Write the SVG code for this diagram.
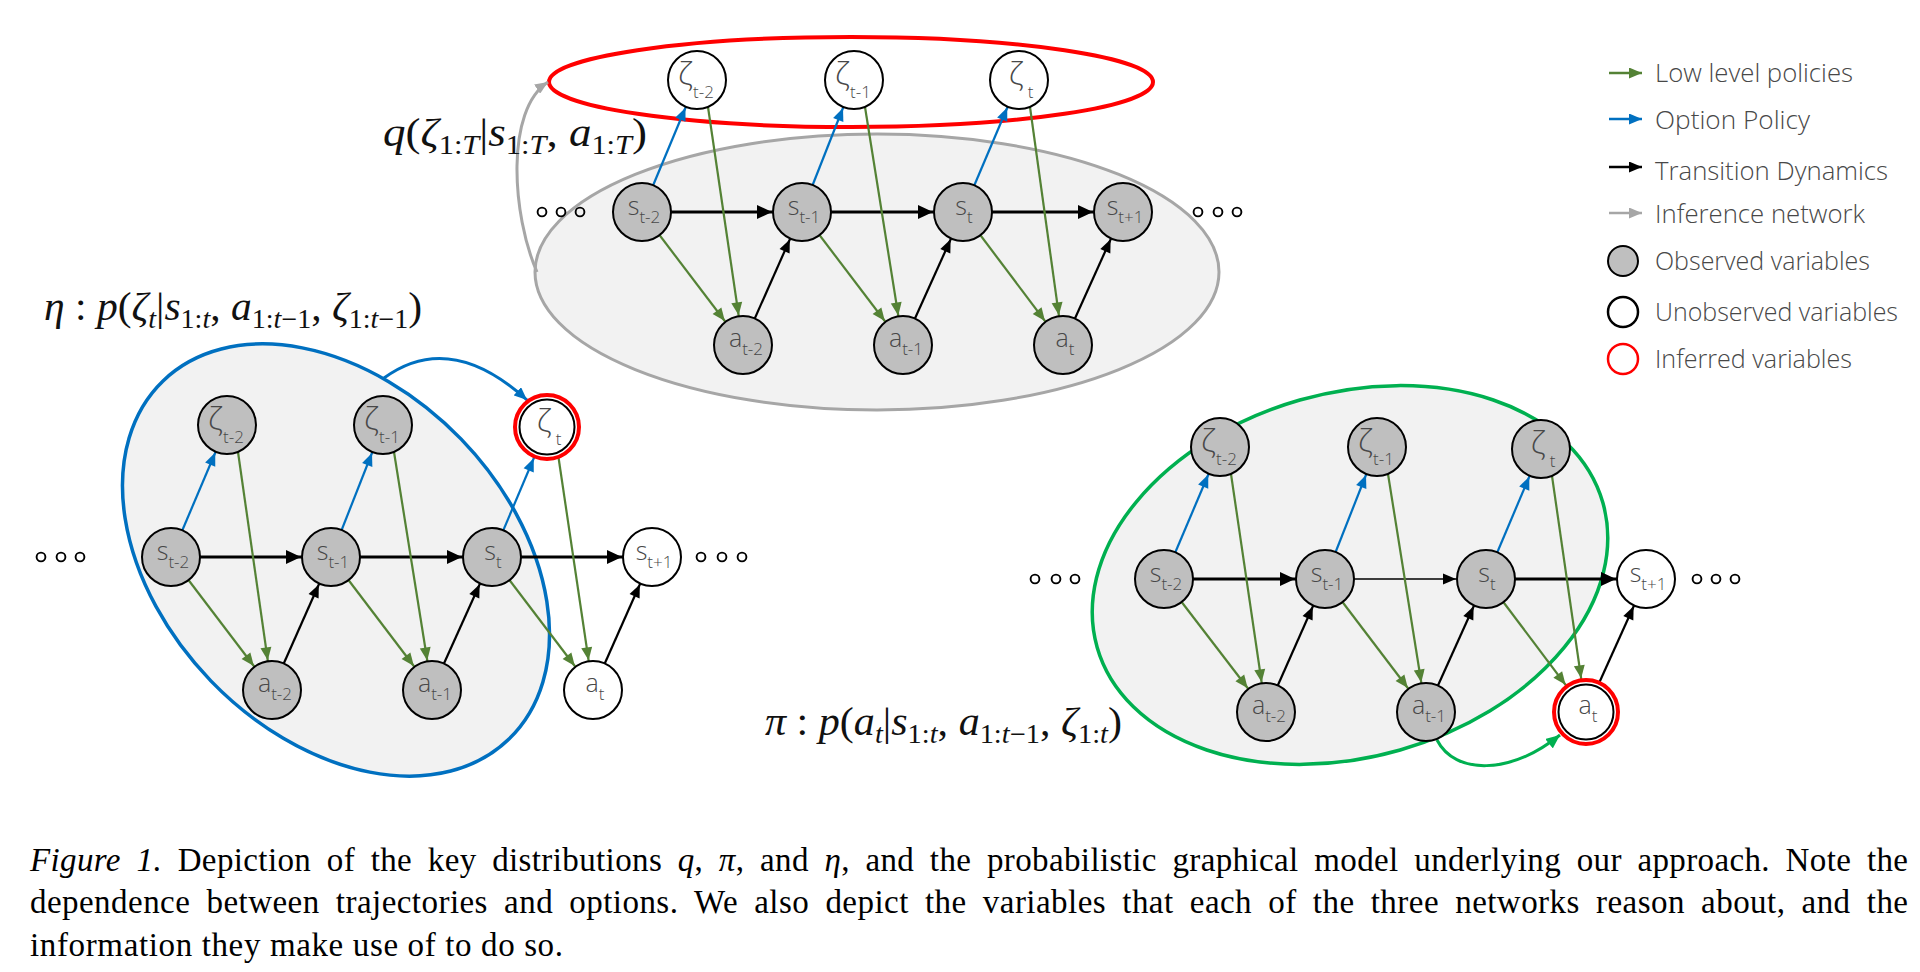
<svg xmlns="http://www.w3.org/2000/svg" width="1920" height="972" viewBox="0 0 1920 972">
<style>
.plate{fill:#f2f2f2}
.n{stroke:#000;stroke-width:2}
.obs{fill:#bfbfbf}
.un{fill:#fff}
.ring{fill:#fff;stroke:#ff0000;stroke-width:4}
.lbl{font-family:"Open Sans","Lato","DejaVu Sans",sans-serif;font-weight:300;font-size:25px;fill:#484848;text-anchor:middle}
.zl{font-size:32px}
.sb{font-size:17px}
.e{fill:none;stroke-width:2.2}
.k{stroke:#000;marker-end:url(#mk30)}
.h{stroke:#000;stroke-width:3;marker-end:url(#mkh30)}
.g{stroke:#548235;marker-end:url(#mg30)}
.g4{stroke:#548235;marker-end:url(#mg34)}
.b{stroke:#0070c0;marker-end:url(#mb30)}
.b4{stroke:#0070c0;marker-end:url(#mb34)}
.dots circle{fill:none;stroke:#000;stroke-width:1.9}
.leg{font-family:"Open Sans","Lato","DejaVu Sans",sans-serif;font-weight:300;font-size:25px;fill:#484848}
.mt{font-family:"Liberation Serif","Times New Roman",serif;font-size:40px;fill:#111}
.it{font-style:italic}
.sub{font-size:27px}
.cap{font-family:"Liberation Serif","Times New Roman",serif;font-size:33px;fill:#000}
</style>
<defs>
  <!-- arrowheads drawn 30/34 px before the line end so lines can run centre to centre -->
  <marker id="mk30" markerUnits="userSpaceOnUse" markerWidth="13" markerHeight="11" refX="43" refY="5.5" orient="auto" overflow="visible"><path d="M0,0L13,5.5L0,11z" fill="#000"/></marker>
  <marker id="mkh30" markerUnits="userSpaceOnUse" markerWidth="15" markerHeight="14" refX="45" refY="7" orient="auto" overflow="visible"><path d="M0,0L15,7L0,14z" fill="#000"/></marker>
  <marker id="mg30" markerUnits="userSpaceOnUse" markerWidth="13" markerHeight="11" refX="43" refY="5.5" orient="auto" overflow="visible"><path d="M0,0L13,5.5L0,11z" fill="#548235"/></marker>
  <marker id="mg34" markerUnits="userSpaceOnUse" markerWidth="13" markerHeight="11" refX="47" refY="5.5" orient="auto" overflow="visible"><path d="M0,0L13,5.5L0,11z" fill="#548235"/></marker>
  <marker id="mb30" markerUnits="userSpaceOnUse" markerWidth="13" markerHeight="11" refX="43" refY="5.5" orient="auto" overflow="visible"><path d="M0,0L13,5.5L0,11z" fill="#0070c0"/></marker>
  <marker id="mb34" markerUnits="userSpaceOnUse" markerWidth="13" markerHeight="11" refX="47" refY="5.5" orient="auto" overflow="visible"><path d="M0,0L13,5.5L0,11z" fill="#0070c0"/></marker>
  <!-- arrowheads with the tip on the line end -->
  <marker id="mk0" markerUnits="userSpaceOnUse" markerWidth="13" markerHeight="11" refX="13" refY="5.5" orient="auto"><path d="M0,0L13,5.5L0,11z" fill="#000"/></marker>
  <marker id="mg0" markerUnits="userSpaceOnUse" markerWidth="13" markerHeight="11" refX="13" refY="5.5" orient="auto"><path d="M0,0L13,5.5L0,11z" fill="#548235"/></marker>
  <marker id="mb0" markerUnits="userSpaceOnUse" markerWidth="13" markerHeight="11" refX="13" refY="5.5" orient="auto"><path d="M0,0L13,5.5L0,11z" fill="#0070c0"/></marker>
  <marker id="ma0" markerUnits="userSpaceOnUse" markerWidth="13" markerHeight="11" refX="13" refY="5.5" orient="auto"><path d="M0,0L13,5.5L0,11z" fill="#a6a6a6"/></marker>
  <marker id="me0" markerUnits="userSpaceOnUse" markerWidth="14" markerHeight="12" refX="14" refY="6" orient="auto"><path d="M0,0L14,6L0,12z" fill="#00b050"/></marker>
</defs>

<rect width="1920" height="972" fill="#fff"/>

<!-- plates: inference (top), option policy eta (left), action policy pi (right) -->
<g id="plates">
  <ellipse class="plate" cx="877" cy="272" rx="342" ry="138" stroke="#a6a6a6" stroke-width="3"/>
  <ellipse cx="851" cy="82" rx="302" ry="45" fill="none" stroke="#ff0000" stroke-width="4"/>
  <ellipse class="plate" cx="0" cy="0" rx="249" ry="174" transform="translate(336 560) rotate(46)" stroke="#0070c0" stroke-width="3.5"/>
  <ellipse class="plate" cx="0" cy="0" rx="263" ry="182" transform="translate(1350 575) rotate(-16)" stroke="#00b050" stroke-width="3.5"/>
</g>

<g id="connectors">
  <!-- top model -->
  <line class="e h" x1="642" y1="212" x2="802" y2="212"/>
  <line class="e h" x1="802" y1="212" x2="963" y2="212"/>
  <line class="e h" x1="963" y1="212" x2="1123" y2="212"/>
  <line class="e k" x1="743" y1="345" x2="802" y2="212"/>
  <line class="e k" x1="903" y1="345" x2="963" y2="212"/>
  <line class="e k" x1="1063" y1="345" x2="1123" y2="212"/>
  <line class="e b" x1="642" y1="212" x2="697" y2="80"/>
  <line class="e b" x1="802" y1="212" x2="854" y2="80"/>
  <line class="e b" x1="963" y1="212" x2="1019" y2="80"/>
  <line class="e g" x1="642" y1="212" x2="743" y2="345"/>
  <line class="e g" x1="802" y1="212" x2="903" y2="345"/>
  <line class="e g" x1="963" y1="212" x2="1063" y2="345"/>
  <line class="e g" x1="708" y1="107" x2="743" y2="345"/>
  <line class="e g" x1="865" y1="107" x2="903" y2="345"/>
  <line class="e g" x1="1030" y1="107" x2="1063" y2="345"/>
  <path d="M537,272 C512,215 505,110 548,82" fill="none" stroke="#a6a6a6" stroke-width="3" marker-end="url(#ma0)"/>

  <!-- left model -->
  <line class="e h" x1="171" y1="557" x2="331" y2="557"/>
  <line class="e h" x1="331" y1="557" x2="492" y2="557"/>
  <line class="e h" x1="492" y1="557" x2="652" y2="557"/>
  <line class="e k" x1="272" y1="690" x2="331" y2="557"/>
  <line class="e k" x1="432" y1="690" x2="492" y2="557"/>
  <line class="e k" x1="593" y1="690" x2="652" y2="557"/>
  <line class="e b" x1="171" y1="557" x2="227" y2="425"/>
  <line class="e b" x1="331" y1="557" x2="383" y2="425"/>
  <line class="e b4" x1="492" y1="557" x2="547" y2="427"/>
  <line class="e g" x1="171" y1="557" x2="272" y2="690"/>
  <line class="e g" x1="331" y1="557" x2="432" y2="690"/>
  <line class="e g" x1="492" y1="557" x2="593" y2="690"/>
  <line class="e g" x1="238" y1="452" x2="272" y2="690"/>
  <line class="e g" x1="394" y1="452" x2="432" y2="690"/>
  <line class="e g" x1="558" y1="454" x2="593" y2="690"/>
  <path d="M384,378 Q450,330 527,400" fill="none" stroke="#0070c0" stroke-width="3" marker-end="url(#mb0)"/>

  <!-- right model -->
  <line class="e h" x1="1164" y1="579" x2="1325" y2="579"/>
  <line class="e k" x1="1325" y1="579" x2="1486" y2="579" style="stroke-width:1.5"/>
  <line class="e h" x1="1486" y1="579" x2="1646" y2="579"/>
  <line class="e k" x1="1266" y1="712" x2="1325" y2="579"/>
  <line class="e k" x1="1426" y1="712" x2="1486" y2="579"/>
  <line class="e k" x1="1586" y1="712" x2="1646" y2="579"/>
  <line class="e b" x1="1164" y1="579" x2="1220" y2="447"/>
  <line class="e b" x1="1325" y1="579" x2="1377" y2="447"/>
  <line class="e b" x1="1486" y1="579" x2="1541" y2="449"/>
  <line class="e g" x1="1164" y1="579" x2="1266" y2="712"/>
  <line class="e g" x1="1325" y1="579" x2="1426" y2="712"/>
  <line class="e g4" x1="1486" y1="579" x2="1586" y2="712"/>
  <line class="e g" x1="1231" y1="474" x2="1266" y2="712"/>
  <line class="e g" x1="1388" y1="474" x2="1426" y2="712"/>
  <line class="e g4" x1="1552" y1="476" x2="1586" y2="712"/>
  <path d="M1437,740 C1455,775 1510,775 1560,735" fill="none" stroke="#00b050" stroke-width="3" marker-end="url(#me0)"/>
</g>

<!-- continuation marks -->
<g class="dots">
  <circle cx="542" cy="212" r="4.4"/><circle cx="561" cy="212" r="4.4"/><circle cx="580" cy="212" r="4.4"/>
  <circle cx="1198" cy="212" r="4.4"/><circle cx="1218" cy="212" r="4.4"/><circle cx="1237" cy="212" r="4.4"/>
  <circle cx="41" cy="557" r="4.4"/><circle cx="61" cy="557" r="4.4"/><circle cx="80" cy="557" r="4.4"/>
  <circle cx="701" cy="557" r="4.4"/><circle cx="722" cy="557" r="4.4"/><circle cx="742" cy="557" r="4.4"/>
  <circle cx="1035" cy="579" r="4.4"/><circle cx="1056" cy="579" r="4.4"/><circle cx="1075" cy="579" r="4.4"/>
  <circle cx="1697" cy="579" r="4.4"/><circle cx="1716" cy="579" r="4.4"/><circle cx="1735" cy="579" r="4.4"/>
</g>

<!-- top model nodes -->
<g id="top-z-t2"><circle class="n un" cx="697" cy="80" r="29"/><text class="lbl zl" x="696" y="85">ζ<tspan class="sb" dy="13">t-2</tspan></text></g>
<g id="top-z-t1"><circle class="n un" cx="854" cy="80" r="29"/><text class="lbl zl" x="853" y="85">ζ<tspan class="sb" dy="13">t-1</tspan></text></g>
<g id="top-z-t"><circle class="n un" cx="1019" cy="80" r="29"/><text class="lbl zl" x="1021" y="85">ζ<tspan class="sb" dx="4" dy="13">t</tspan></text></g>
<g id="top-s-t2"><circle class="n obs" cx="642" cy="212" r="29"/><text class="lbl" x="644" y="215">s<tspan class="sb" dy="8">t-2</tspan></text></g>
<g id="top-s-t1"><circle class="n obs" cx="802" cy="212" r="29"/><text class="lbl" x="804" y="215">s<tspan class="sb" dy="8">t-1</tspan></text></g>
<g id="top-s-t"><circle class="n obs" cx="963" cy="212" r="29"/><text class="lbl" x="964" y="215">s<tspan class="sb" dy="8">t</tspan></text></g>
<g id="top-s-tp1"><circle class="n obs" cx="1123" cy="212" r="29"/><text class="lbl" x="1125" y="215">s<tspan class="sb" dy="8">t+1</tspan></text></g>
<g id="top-a-t2"><circle class="n obs" cx="743" cy="345" r="29"/><text class="lbl" x="746" y="347">a<tspan class="sb" dy="8">t-2</tspan></text></g>
<g id="top-a-t1"><circle class="n obs" cx="903" cy="345" r="29"/><text class="lbl" x="906" y="347">a<tspan class="sb" dy="8">t-1</tspan></text></g>
<g id="top-a-t"><circle class="n obs" cx="1063" cy="345" r="29"/><text class="lbl" x="1065" y="347">a<tspan class="sb" dy="8">t</tspan></text></g>

<!-- left model nodes -->
<g id="eta-z-t2"><circle class="n obs" cx="227" cy="425" r="29"/><text class="lbl zl" x="226" y="430">ζ<tspan class="sb" dy="13">t-2</tspan></text></g>
<g id="eta-z-t1"><circle class="n obs" cx="383" cy="425" r="29"/><text class="lbl zl" x="382" y="430">ζ<tspan class="sb" dy="13">t-1</tspan></text></g>
<g id="eta-z-t"><circle class="ring" cx="547" cy="427" r="32"/><circle class="n un" cx="547" cy="427" r="27.5"/><text class="lbl zl" x="549" y="432">ζ<tspan class="sb" dx="4" dy="13">t</tspan></text></g>
<g id="eta-s-t2"><circle class="n obs" cx="171" cy="557" r="29"/><text class="lbl" x="173" y="560">s<tspan class="sb" dy="8">t-2</tspan></text></g>
<g id="eta-s-t1"><circle class="n obs" cx="331" cy="557" r="29"/><text class="lbl" x="333" y="560">s<tspan class="sb" dy="8">t-1</tspan></text></g>
<g id="eta-s-t"><circle class="n obs" cx="492" cy="557" r="29"/><text class="lbl" x="493" y="560">s<tspan class="sb" dy="8">t</tspan></text></g>
<g id="eta-s-tp1"><circle class="n un" cx="652" cy="557" r="29"/><text class="lbl" x="654" y="560">s<tspan class="sb" dy="8">t+1</tspan></text></g>
<g id="eta-a-t2"><circle class="n obs" cx="272" cy="690" r="29"/><text class="lbl" x="275" y="692">a<tspan class="sb" dy="8">t-2</tspan></text></g>
<g id="eta-a-t1"><circle class="n obs" cx="432" cy="690" r="29"/><text class="lbl" x="435" y="692">a<tspan class="sb" dy="8">t-1</tspan></text></g>
<g id="eta-a-t"><circle class="n un" cx="593" cy="690" r="29"/><text class="lbl" x="595" y="692">a<tspan class="sb" dy="8">t</tspan></text></g>

<!-- right model nodes -->
<g id="pi-z-t2"><circle class="n obs" cx="1220" cy="447" r="29"/><text class="lbl zl" x="1219" y="452">ζ<tspan class="sb" dy="13">t-2</tspan></text></g>
<g id="pi-z-t1"><circle class="n obs" cx="1377" cy="447" r="29"/><text class="lbl zl" x="1376" y="452">ζ<tspan class="sb" dy="13">t-1</tspan></text></g>
<g id="pi-z-t"><circle class="n obs" cx="1541" cy="449" r="29"/><text class="lbl zl" x="1543" y="454">ζ<tspan class="sb" dx="4" dy="13">t</tspan></text></g>
<g id="pi-s-t2"><circle class="n obs" cx="1164" cy="579" r="29"/><text class="lbl" x="1166" y="582">s<tspan class="sb" dy="8">t-2</tspan></text></g>
<g id="pi-s-t1"><circle class="n obs" cx="1325" cy="579" r="29"/><text class="lbl" x="1327" y="582">s<tspan class="sb" dy="8">t-1</tspan></text></g>
<g id="pi-s-t"><circle class="n obs" cx="1486" cy="579" r="29"/><text class="lbl" x="1487" y="582">s<tspan class="sb" dy="8">t</tspan></text></g>
<g id="pi-s-tp1"><circle class="n un" cx="1646" cy="579" r="29"/><text class="lbl" x="1648" y="582">s<tspan class="sb" dy="8">t+1</tspan></text></g>
<g id="pi-a-t2"><circle class="n obs" cx="1266" cy="712" r="29"/><text class="lbl" x="1269" y="714">a<tspan class="sb" dy="8">t-2</tspan></text></g>
<g id="pi-a-t1"><circle class="n obs" cx="1426" cy="712" r="29"/><text class="lbl" x="1429" y="714">a<tspan class="sb" dy="8">t-1</tspan></text></g>
<g id="pi-a-t"><circle class="ring" cx="1586" cy="712" r="32"/><circle class="n un" cx="1586" cy="712" r="27.5"/><text class="lbl" x="1588" y="714">a<tspan class="sb" dy="8">t</tspan></text></g>

<!-- distribution labels -->
<g id="label-q"><text class="mt" x="383" y="146" textLength="264" lengthAdjust="spacingAndGlyphs"><tspan class="it">q</tspan>(<tspan class="it">ζ</tspan><tspan class="sub" dy="8">1:</tspan><tspan class="sub it">T</tspan><tspan dy="-8">|</tspan><tspan class="it">s</tspan><tspan class="sub" dy="8">1:</tspan><tspan class="sub it">T</tspan><tspan dy="-8">, </tspan><tspan class="it">a</tspan><tspan class="sub" dy="8">1:</tspan><tspan class="sub it">T</tspan><tspan dy="-8">)</tspan></text></g>
<g id="label-eta"><text class="mt" x="44" y="320" textLength="378" lengthAdjust="spacingAndGlyphs"><tspan class="it">η</tspan> : <tspan class="it">p</tspan>(<tspan class="it">ζ</tspan><tspan class="sub it" dy="8">t</tspan><tspan dy="-8">|</tspan><tspan class="it">s</tspan><tspan class="sub" dy="8">1:</tspan><tspan class="sub it">t</tspan><tspan dy="-8">, </tspan><tspan class="it">a</tspan><tspan class="sub" dy="8">1:</tspan><tspan class="sub it">t</tspan><tspan class="sub">−1</tspan><tspan dy="-8">, </tspan><tspan class="it">ζ</tspan><tspan class="sub" dy="8">1:</tspan><tspan class="sub it">t</tspan><tspan class="sub">−1</tspan><tspan dy="-8">)</tspan></text></g>
<g id="label-pi"><text class="mt" x="765" y="735" textLength="357" lengthAdjust="spacingAndGlyphs"><tspan class="it">π</tspan> : <tspan class="it">p</tspan>(<tspan class="it">a</tspan><tspan class="sub it" dy="8">t</tspan><tspan dy="-8">|</tspan><tspan class="it">s</tspan><tspan class="sub" dy="8">1:</tspan><tspan class="sub it">t</tspan><tspan dy="-8">, </tspan><tspan class="it">a</tspan><tspan class="sub" dy="8">1:</tspan><tspan class="sub it">t</tspan><tspan class="sub">−1</tspan><tspan dy="-8">, </tspan><tspan class="it">ζ</tspan><tspan class="sub" dy="8">1:</tspan><tspan class="sub it">t</tspan><tspan dy="-8">)</tspan></text></g>

<!-- legend -->
<g id="legend">
  <line x1="1609" y1="73" x2="1642" y2="73" stroke="#548235" stroke-width="2.5" marker-end="url(#mg0)"/>
  <line x1="1609" y1="119" x2="1642" y2="119" stroke="#0070c0" stroke-width="2.5" marker-end="url(#mb0)"/>
  <line x1="1609" y1="167" x2="1642" y2="167" stroke="#000" stroke-width="2.5" marker-end="url(#mk0)"/>
  <line x1="1609" y1="213" x2="1642" y2="213" stroke="#a6a6a6" stroke-width="2.5" marker-end="url(#ma0)"/>
  <circle cx="1623" cy="261" r="15" fill="#bfbfbf" stroke="#000" stroke-width="2"/>
  <circle cx="1623" cy="312" r="15" fill="#fff" stroke="#000" stroke-width="2.5"/>
  <circle cx="1623" cy="359" r="15" fill="#fff" stroke="#ff0000" stroke-width="2.5"/>
  <text class="leg" x="1655" y="82" textLength="198" lengthAdjust="spacingAndGlyphs">Low level policies</text>
  <text class="leg" x="1655" y="129" textLength="155" lengthAdjust="spacingAndGlyphs">Option Policy</text>
  <text class="leg" x="1655" y="180" textLength="233" lengthAdjust="spacingAndGlyphs">Transition Dynamics</text>
  <text class="leg" x="1655" y="223" textLength="210" lengthAdjust="spacingAndGlyphs">Inference network</text>
  <text class="leg" x="1655" y="270" textLength="215" lengthAdjust="spacingAndGlyphs">Observed variables</text>
  <text class="leg" x="1655" y="321" textLength="243" lengthAdjust="spacingAndGlyphs">Unobserved variables</text>
  <text class="leg" x="1655" y="368" textLength="197" lengthAdjust="spacingAndGlyphs">Inferred variables</text>
</g>

<!-- caption -->
<g id="caption">
  <text class="cap" x="30" y="871" word-spacing="7" textLength="1878" lengthAdjust="spacing"><tspan class="it">Figure 1.</tspan> Depiction of the key distributions <tspan class="it">q</tspan>, <tspan class="it">π</tspan>, and <tspan class="it">η</tspan>, and the probabilistic graphical model underlying our approach. Note the</text>
  <text class="cap" x="30" y="913" word-spacing="7.5" textLength="1878" lengthAdjust="spacing">dependence between trajectories and options. We also depict the variables that each of the three networks reason about, and the</text>
  <text class="cap" x="30" y="956" textLength="533" lengthAdjust="spacing">information they make use of to do so.</text>
</g>
</svg>
